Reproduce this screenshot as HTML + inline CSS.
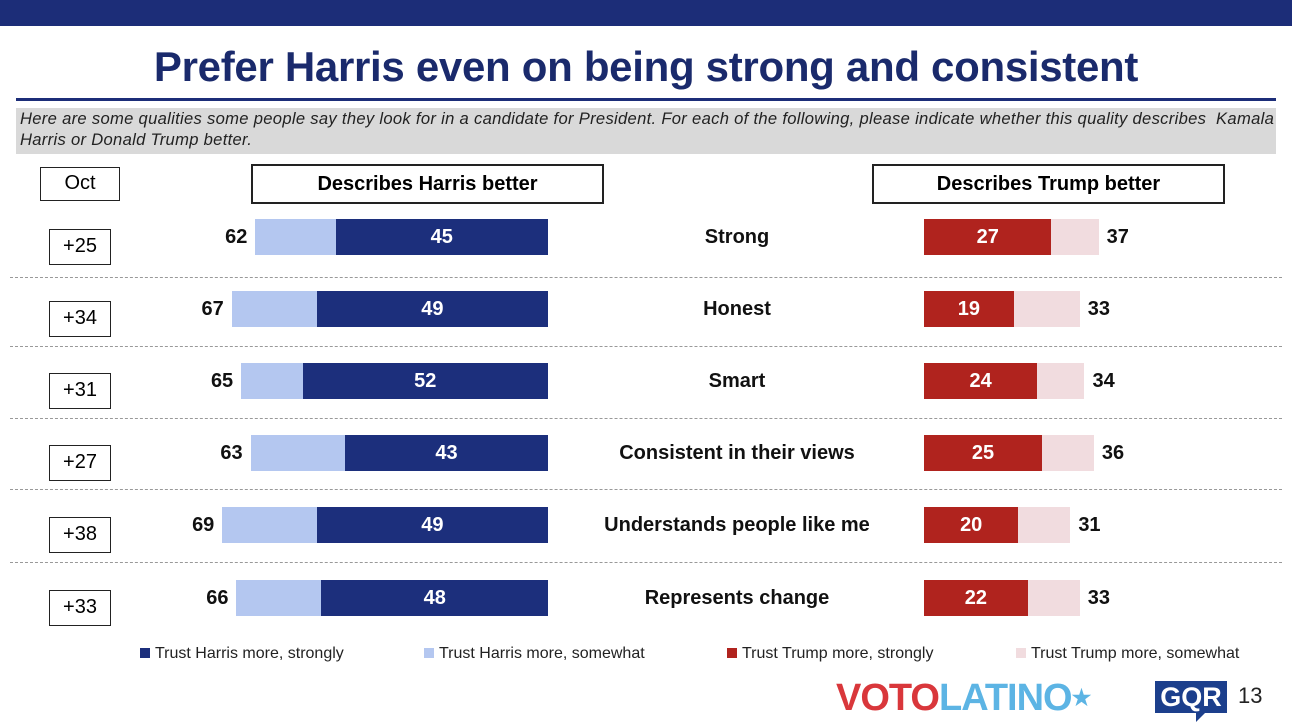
<!DOCTYPE html>
<html><head><style>
body{margin:0;width:1292px;height:726px;position:relative;background:#fff;font-family:"Liberation Sans",sans-serif;overflow:hidden}
.a{position:absolute}
.bx{position:absolute;border:1.5px solid #222;background:#fff;text-align:center;box-sizing:border-box}
.n{position:absolute;font-weight:bold;font-size:20px;color:#111;line-height:36px}
.lbl{position:absolute;left:560px;width:354px;text-align:center;font-weight:bold;font-size:20px;color:#111;line-height:36px}
.bar{position:absolute;height:36px;color:#fff;font-weight:bold;font-size:20px;line-height:36px;text-align:center}
.dash{position:absolute;left:10px;width:1272px;border-top:1.5px dashed #999}
.lg{position:absolute;top:645px;font-size:16px;color:#222}
.lg span{display:inline-block;width:10px;height:10px;margin-right:5px}
</style></head><body>
<div class="a" style="left:0;top:0;width:1292px;height:26px;background:#1c2d78"></div>
<div class="a" style="left:0;top:37px;width:1292px;text-align:center;font-size:42px;font-weight:bold;color:#1a2a6c;line-height:60px;letter-spacing:-0.3px">Prefer Harris even on being strong and consistent</div>
<div class="a" style="left:16px;top:98px;width:1260px;height:3px;background:#1c2d78"></div>
<div class="a" style="left:16px;top:108px;width:1260px;height:46px;background:#d9d9d9;font-style:italic;font-size:16.6px;letter-spacing:0.3px;color:#222;line-height:21px;padding-left:4px;box-sizing:border-box;white-space:nowrap">Here are some qualities some people say they look for in a candidate for President. For each of the following, please indicate whether this quality describes&nbsp; Kamala<br>Harris or Donald Trump better.</div>
<div class="bx" style="left:40px;top:167px;width:80px;height:34px;font-size:20px;line-height:31px">Oct</div>
<div class="bx" style="left:251px;top:164px;width:353px;height:40px;font-size:20px;font-weight:bold;line-height:37px;border-width:2px">Describes Harris better</div>
<div class="bx" style="left:872px;top:164px;width:353px;height:40px;font-size:20px;font-weight:bold;line-height:37px;border-width:2px">Describes Trump better</div>

<div class="dash" style="top:277px"></div><div class="dash" style="top:346px"></div><div class="dash" style="top:418px"></div><div class="dash" style="top:489px"></div><div class="dash" style="top:562px"></div>

<div id="rows"></div>
<script>
var d=[["+25",62,45,"Strong",27,37,219],["+34",67,49,"Honest",19,33,291],["+31",65,52,"Smart",24,34,363],["+27",63,43,"Consistent in their views",25,36,435],["+38",69,49,"Understands people like me",20,31,507],["+33",66,48,"Represents change",22,33,580]];
var s=4.72,h="";
d.forEach(function(r){var y=r[6];
h+='<div class="bx" style="left:49px;top:'+(y+10)+'px;width:62px;height:36px;font-size:20px;line-height:33px">'+r[0]+'</div>';
var tl=548-r[1]*s,dl=548-r[2]*s;
h+='<div class="bar" style="left:'+tl+'px;top:'+y+'px;width:'+(r[1]*s)+'px;background:#b4c7f0"></div>';
h+='<div class="bar" style="left:'+dl+'px;top:'+y+'px;width:'+(r[2]*s)+'px;background:#1c2f7c">'+r[2]+'</div>';
h+='<div class="n" style="left:'+(tl-60)+'px;width:52px;text-align:right;top:'+y+'px">'+r[1]+'</div>';
h+='<div class="lbl" style="top:'+y+'px">'+r[3]+'</div>';
h+='<div class="bar" style="left:924px;top:'+y+'px;width:'+(r[5]*s)+'px;background:#f1dcdf"></div>';
h+='<div class="bar" style="left:924px;top:'+y+'px;width:'+(r[4]*s)+'px;background:#b0231e">'+r[4]+'</div>';
h+='<div class="n" style="left:'+(924+r[5]*s+8)+'px;top:'+y+'px">'+r[5]+'</div>';
});
document.getElementById("rows").innerHTML=h;
</script>

<div class="lg" style="left:140px"><span style="background:#1c2f7c"></span>Trust Harris more, strongly</div>
<div class="lg" style="left:424px"><span style="background:#b4c7f0"></span>Trust Harris more, somewhat</div>
<div class="lg" style="left:727px"><span style="background:#b0231e"></span>Trust Trump more, strongly</div>
<div class="lg" style="left:1016px"><span style="background:#f1dcdf"></span>Trust Trump more, somewhat</div>

<div class="a" style="left:836px;top:676px;font-size:38px;font-weight:900;letter-spacing:-1px;line-height:44px"><span style="color:#d9373b">VOTO</span><span style="color:#5cb4e4">LATINO</span><span style="color:#5cb4e4;font-size:22px;vertical-align:top">★</span></div>
<div class="a" style="left:1155px;top:681px;width:72px;height:32px;background:#1c3f8c;color:#fff;font-weight:bold;font-size:27px;text-align:center;line-height:32px">GQR</div>
<div class="a" style="left:1196px;top:712px;width:0;height:0;border-left:10px solid #1c3f8c;border-bottom:10px solid transparent"></div>
<div class="a" style="left:1238px;top:683px;font-size:22px;color:#222">13</div>
</body></html>
